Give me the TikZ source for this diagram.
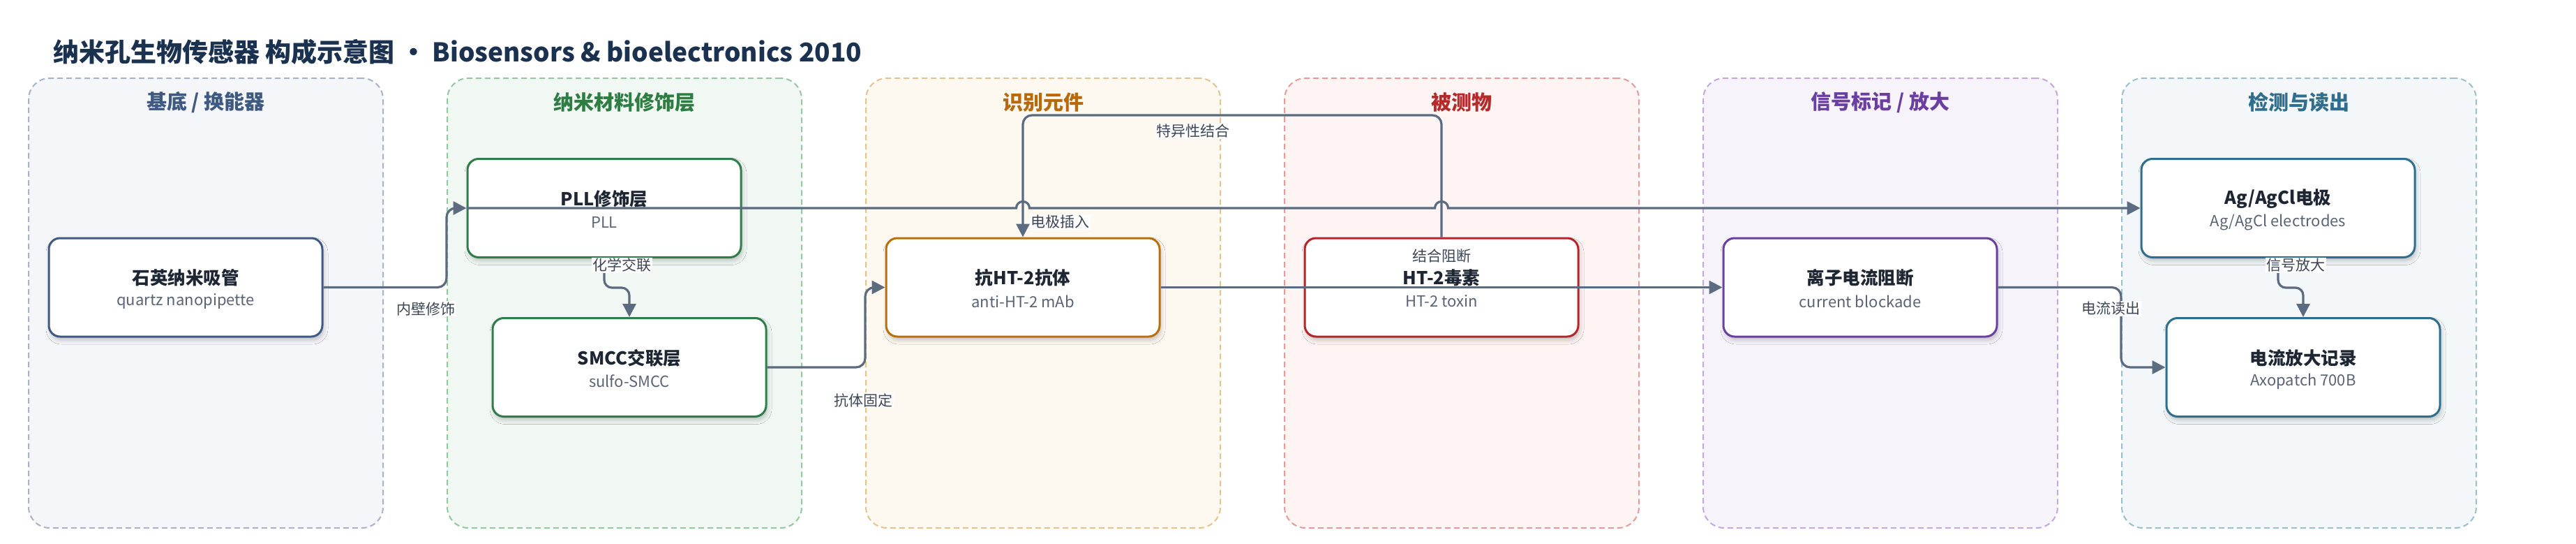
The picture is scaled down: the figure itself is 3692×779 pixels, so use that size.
\documentclass[tikz,border=0pt]{standalone}
\usepackage{fontspec}
\setmainfont{Noto Sans CJK SC}
\usetikzlibrary{arrows.meta,shadows.blur,calc}
\definecolor{titlec}{HTML}{1B3150}
\definecolor{edgec}{HTML}{5B6B80}
\definecolor{labc}{HTML}{3C4656}
\definecolor{ntc}{HTML}{1E2633}
\definecolor{nsc}{HTML}{5A6475}
\definecolor{laneAf}{HTML}{F5F6FA}\definecolor{laneAb}{HTML}{A8B3C8}\definecolor{laneAt}{HTML}{3F5A80}\definecolor{nodeA}{HTML}{3F5A85}
\definecolor{laneBf}{HTML}{F1F8F3}\definecolor{laneBb}{HTML}{95C8A0}\definecolor{laneBt}{HTML}{2E7D42}\definecolor{nodeB}{HTML}{2E7D4A}
\definecolor{laneCf}{HTML}{FDF9F1}\definecolor{laneCb}{HTML}{E6C38E}\definecolor{laneCt}{HTML}{B8690A}\definecolor{nodeC}{HTML}{B8700F}
\definecolor{laneDf}{HTML}{FEF4F4}\definecolor{laneDb}{HTML}{E59B9B}\definecolor{laneDt}{HTML}{B52A2A}\definecolor{nodeD}{HTML}{B3262A}
\definecolor{laneEf}{HTML}{F7F3FB}\definecolor{laneEb}{HTML}{C4A8DE}\definecolor{laneEt}{HTML}{6B3FA0}\definecolor{nodeE}{HTML}{6B3FA0}
\definecolor{laneFf}{HTML}{F3F7F9}\definecolor{laneFb}{HTML}{9DBFCC}\definecolor{laneFt}{HTML}{2F6E8C}\definecolor{nodeF}{HTML}{2F6E8C}
\tikzset{
  lanebox/.style={rounded corners=30pt, line width=2pt, dash pattern=on 8pt off 5pt,
    minimum width=508pt, minimum height=644pt, inner sep=0pt},
  lanetitle/.style={font=\bfseries\fontsize{29}{34}\selectfont, inner sep=0pt},
  procbox/.style={rounded corners=16pt, line width=3pt, fill=white, draw=#1,
    minimum width=392pt, minimum height=141pt, inner sep=0pt,
    blur shadow={shadow xshift=2pt, shadow yshift=-5pt, shadow blur radius=6pt, shadow opacity=22}},
  ttl/.style={font=\bfseries\fontsize{25.5}{30}\selectfont, text=ntc, inner sep=0pt},
  sub/.style={font=\fontsize{22}{26}\selectfont, text=nsc, inner sep=0pt},
  edgebase/.style={draw=edgec, line width=3.2pt, -{Triangle[length=19pt,width=19pt]}},
  edge/.style={edgebase, rounded corners=13pt},
  elabel/.style={font=\fontsize{21}{25}\selectfont, text=labc, fill=white, inner sep=1.5pt},
}
\begin{document}
\begin{tikzpicture}[x=1pt,y=-1pt]
\useasboundingbox (0,0) rectangle (3692,779);
\fill[white] (0,0) rectangle (3692,779);
% title
\node[anchor=west, inner sep=0pt, text=titlec, font=\bfseries\fontsize{37}{42}\selectfont] (title) at (76,74.5)
  {纳米孔生物传感器 构成示意图 • Biosensors \& bioelectronics 2010};
% lanes
\node[lanebox, draw=laneAb, fill=laneAf] (L1) at (295,434) {};
\node[lanebox, draw=laneBb, fill=laneBf] (L2) at (895,434) {};
\node[lanebox, draw=laneCb, fill=laneCf] (L3) at (1495,434) {};
\node[lanebox, draw=laneDb, fill=laneDf] (L4) at (2095,434) {};
\node[lanebox, draw=laneEb, fill=laneEf] (L5) at (2695,434) {};
\node[lanebox, draw=laneFb, fill=laneFf] (L6) at (3295,434) {};
\node[lanetitle, text=laneAt] (L1t) at (295,146.5) {基底 / 换能器};
\node[lanetitle, text=laneBt] (L2t) at (895,146.5) {纳米材料修饰层};
\node[lanetitle, text=laneCt] (L3t) at (1495,146.5) {识别元件};
\node[lanetitle, text=laneDt] (L4t) at (2095,146.5) {被测物};
\node[lanetitle, text=laneEt] (L5t) at (2695,146.5) {信号标记 / 放大};
\node[lanetitle, text=laneFt] (L6t) at (3295,146.5) {检测与读出};
% boxes
\node[procbox=nodeA] (n1) at (266,411.5) {};
\node[procbox=nodeB] (n2) at (866,298) {};
\node[procbox=nodeB] (n3) at (902,526) {};
\node[procbox=nodeC] (n4) at (1466,411.5) {};
\node[procbox=nodeD] (n5) at (2066,411.5) {};
\node[procbox=nodeE] (n6) at (2666,411.5) {};
\node[procbox=nodeF] (n7) at (3265,298) {};
\node[procbox=nodeF] (n8) at (3301,526) {};
\foreach \n/\t/\s in {n1/石英纳米吸管/quartz nanopipette, n2/PLL修饰层/PLL, n3/SMCC交联层/sulfo-SMCC,
  n4/抗HT-2抗体/anti-HT-2 mAb, n5/HT-2毒素/HT-2 toxin, n6/离子电流阻断/current blockade,
  n7/Ag\slash AgCl电极/Ag\slash AgCl electrodes, n8/电流放大记录/Axopatch 700B}{
  \node[ttl] (\n t) at ([yshift=13.5pt]\n.center) {\t};
  \node[sub] (\n s) at ([yshift=-20pt]\n.center) {\s};
}
% helper coordinates
\coordinate (top) at (0,165);
\coordinate (m23) at ($(n2.south)!0.5!(n3.north)$);
\coordinate (m78) at ($(n7.south)!0.5!(n8.north)$);
% edges
\draw[edge] (n1.east) -- (n1.east -| L2.west) -- (L2.west |- n2.west) -- (n2.west);
\draw[edgebase] (n2.west)
  -- ($(n4.north |- n7.west)+(-9.5,0)$) arc[start angle=180, end angle=360, radius=9.5]
  -- ($(n5.north |- n7.west)+(-9.5,0)$) arc[start angle=180, end angle=360, radius=9.5]
  -- (n7.west);
\draw[edge] (n5.north) -- (n5.north |- top) -- (n4.north |- top) -- (n4.north);
\draw[edge, rounded corners=11pt] (n2.south) -- (n2.south |- m23) -- (n3.north |- m23) -- (n3.north);
\draw[edge] (n3.east) -- (n3.east -| L3.west) -- (L3.west |- n4.west) -- (n4.west);
\draw[edge] (n4.east) -- (n6.west);
\draw[edge] (n6.east) -- (n6.east -| L6.west) -- (L6.west |- n8.west) -- (n8.west);
\draw[edge, rounded corners=11pt] (n7.south) -- (n7.south |- m78) -- (n8.north |- m78) -- (n8.north);
% edge labels
\node[elabel] (lb1) at (610,442) {内壁修饰};
\node[elabel] (lb2) at (1519,318) {电极插入};
\node[elabel] (lb3) at (1710,188) {特异性结合};
\node[elabel] (lb4) at (891,380) {化学交联};
\node[elabel] (lb5) at (1237,573) {抗体固定};
\node[elabel] (lb6) at (2066,366.5) {结合阻断};
\node[elabel] (lb7) at (3025,442) {电流读出};
\node[elabel] (lb8) at (3290,380) {信号放大};
\end{tikzpicture}
\end{document}
